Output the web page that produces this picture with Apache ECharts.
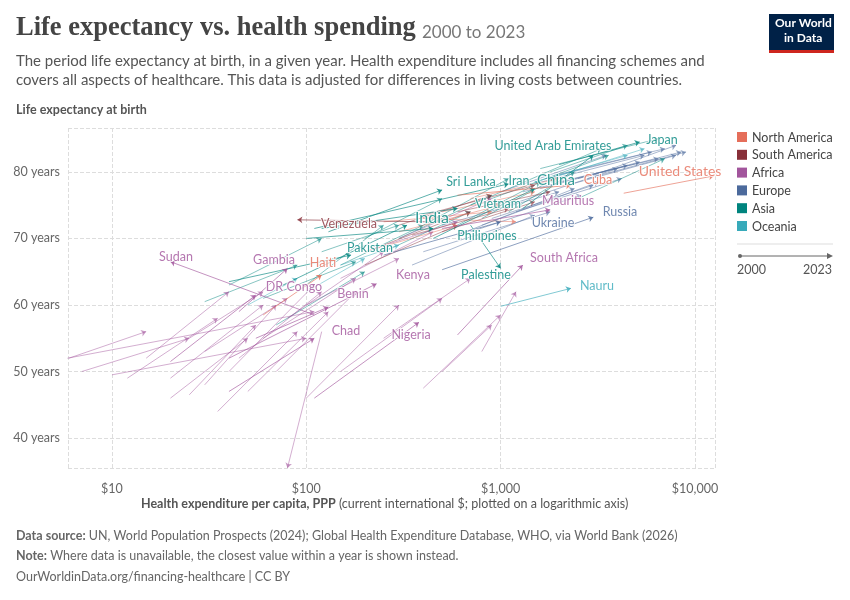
<!DOCTYPE html>
<html><head><meta charset="utf-8">
<script src="https://cdn.jsdelivr.net/npm/echarts@6/dist/echarts.min.js"></script>
<style>body{margin:0}#c{width:850px;height:600px}</style></head>
<body><div id="c"></div>
<script>
// regions and colours
var regionNames = ["North America", "South America", "Africa", "Europe", "Asia", "Oceania"];
var regionColors = ["#e56e5a", "#883039", "#a2559c", "#4c6a9c", "#00847e", "#38aaba"];

// labelled countries: region index, 2000 spend, 2000 life exp, 2023 spend, 2023 life exp
var labNames = ["Japan", "United Arab Emirates", "China", "Iran", "Cuba", "United States", "Sri Lanka",
  "India", "Vietnam", "Mauritius", "Russia", "Ukraine", "Venezuela", "Philippines", "Pakistan", "Haiti",
  "Gambia", "Sudan", "Kenya", "Palestine", "South Africa", "Nauru", "DR Congo", "Benin", "Chad", "Nigeria"];
var labRegion = [4, 4, 4, 4, 0, 0, 4, 4, 4, 2, 3, 3, 1, 4, 4, 0, 2, 2, 2, 4, 2, 5, 2, 2, 2, 2];
var labX0 = [2000, 1300, 110, 450, 600, 4300, 130, 70, 120, 500, 500, 250, 420, 100, 40, 60, 45, 110, 40, 700, 600, 1000, 20, 55, 40, 110];
var labY0 = [81.1, 74.5, 71.5, 70, 76.5, 76.8, 71, 62.5, 71.5, 71.5, 65.3, 67.5, 72.5, 70, 63.5, 58.5, 59, 58.5, 52, 72, 55.5, 59.8, 51.5, 55, 47, 46];
var labX1 = [5200, 3000, 1100, 1500, 2300, 12500, 500, 330, 600, 1800, 3000, 1000, 90, 450, 170, 120, 80, 20, 230, 1000, 1300, 2300, 55, 130, 110, 380];
var labY1 = [84.5, 82.5, 78.2, 77.5, 78, 79.4, 77.3, 72, 74.5, 74.3, 73.2, 72.5, 72.8, 71.5, 67.5, 64.5, 65.5, 66.5, 63.2, 65.5, 66, 62.5, 61.5, 59.7, 55, 57.4];
// where each label sits on the page, and its size
var labAt = [[662,140],[553,146],[556,180],[519,181],[598,180],[680,171],[471,182],[432,218],[498,204],[568,201],
  [620,212],[553,223],[349,224],[487,236],[370,248],[323,263],[274,260],[176,257],[413,275],[486,275],
  [564,258],[597,286],[294,287],[353,294],[346,331],[411,335]];
var bigLabels = {"India": 16, "China": 15, "United States": 14};

// other countries: [region, x2000, y2000, x2023, y2023]
var others = [
  [3,1400,78,5500,82.5],[3,1700,79,6000,83],[3,2000,78.5,6500,82],[3,1900,79.5,7000,83.5],[3,2200,78,8000,82.5],
  [3,2500,79,8500,83],[3,1600,77.5,5200,81.5],[3,1300,77,4500,81],[3,900,73,3000,78],[3,700,71,2600,76.5],
  [3,800,72,3200,78.5],[3,600,70.5,2400,77.5],[3,500,72,2000,77],[3,1100,75,4000,80.5],[3,1000,77,3500,82.5],
  [3,400,68,1800,74],[3,350,66,1500,73.5],[3,3000,79.5,8000,84],[3,2800,79,9000,83],[3,1200,74,4200,79],
  [4,1800,80,4500,84],[4,1600,80.5,6500,85],[4,700,75,3300,83.5],[4,900,76,3600,82.5],[4,1100,74,2400,80],
  [4,800,73,1900,79],[4,600,72,1600,78.5],[4,300,70,900,76.5],[4,250,68,700,74],[4,120,68,300,72],
  [4,60,61,180,66.5],[4,30,60.5,90,66],[4,150,66,400,72],[4,200,70,500,76],[4,400,72,1100,79],
  [4,40,63,120,70],[4,90,62,250,72],[4,70,57,200,65],[4,2500,76,7000,82],
  [2,15,52,40,62],[2,20,49,60,60],[2,25,46.5,55,57],[2,30,48,70,60],[2,35,44,90,56],[2,40,50,110,63],
  [2,45,52,120,62],[2,60,55,180,64],[2,80,58,250,68],[2,100,60,300,67],[2,150,64,450,71],[2,200,68,600,72.5],
  [2,300,70,900,76],[2,20,46,50,55],[2,12,49,35,58],[2,50,47,130,59],[2,70,50,180,62],[2,30,53,80,61],
  [2,100,46,300,60],[2,150,50,500,61],[2,250,55,700,64],[2,400,47.5,1000,58.5],[2,7,50,25,55],[2,6,52,15,56],
  [2,25,55,60,62],[2,120,56,80,35.5],[2,800,53,1200,62],[2,500,50,900,57],[2,5.9,52,110,59],[2,10,49.5,100,55],
  [1,300,72,900,76.5],[1,400,73.5,1500,78],[1,600,74,1800,77],[1,500,71,1500,75.5],[1,250,69,700,74],
  [1,200,66,600,72],[1,350,70.5,1100,74.5],
  [0,300,71,1000,75],[0,500,74,1500,77],[0,200,68,600,72],[0,700,76,2000,79],[0,250,72.5,900,74],[0,400,73,1200,72.5],
  [5,1800,79,5500,83.5],[5,1500,78.5,4500,82.5],[5,50,60,90,64],[5,100,62,200,67],[5,150,66,300,69]
];

var xTicks = {10: "$10", 100: "$100", 1000: "$1,000", 10000: "$10,000"};

var lineData = others.map(function (o) {
  return {coords: [[o[1], o[2]], [o[3], o[4]]], lineStyle: {color: regionColors[o[0]]}};
});
labNames.forEach(function (n, i) {
  lineData.push({coords: [[labX0[i], labY0[i]], [labX1[i], labY1[i]]],
    lineStyle: {color: regionColors[labRegion[i]], opacity: 0.8}});
});

var chart = echarts.init(document.getElementById("c"));
var font = "Lato, 'Noto Sans', sans-serif";

var legendGraphics = [];
regionNames.forEach(function (r, i) {
  legendGraphics.push({type: "rect", left: 737, top: 132 + i * 17.8, shape: {width: 10, height: 10}, style: {fill: regionColors[i]}});
  legendGraphics.push({type: "text", left: 752, top: 131 + i * 17.8, style: {text: r, fill: "#444", font: "12.5px " + font}});
});

var option = {
  animation: false,
  grid: {left: 68, right: 135, top: 128, bottom: 132},
  xAxis: {
    type: "log", logBase: 10, min: 5.94, max: 12680,
    axisLine: {show: false}, axisTick: {show: false},
    axisLabel: {color: "#666", fontSize: 12.5, fontFamily: font, margin: 14,
      formatter: function (v) { return xTicks[Math.round(v)] || ""; }},
    splitLine: {show: true, lineStyle: {type: "dashed", color: "#ddd"}}
  },
  yAxis: {
    type: "value", min: 35.5, max: 86.6, splitNumber: 5,
    axisLine: {show: false}, axisTick: {show: false},
    axisLabel: {color: "#666", fontSize: 12.5, fontFamily: font, formatter: "{value} years",
      showMinLabel: false, showMaxLabel: false},
    splitLine: {lineStyle: {type: "dashed", color: "#ddd"}}
  },
  series: [
    {type: "lines", coordinateSystem: "cartesian2d", polyline: false, silent: true,
      symbol: ["none", "arrow"], symbolSize: 5,
      lineStyle: {width: 0.8, opacity: 0.6}, data: lineData, z: 2},
    {type: "scatter", symbolSize: 0, silent: true, z: 5,
      data: labNames.map(function (n, i) {
        return {name: n, value: [labX1[i], labY1[i]],
          label: {color: regionColors[labRegion[i]], fontSize: bigLabels[n] || 12.5}};
      }),
      label: {show: true, formatter: "{b}", position: "inside", fontFamily: font,
        textBorderColor: "#fff", textBorderWidth: 2}}
  ],
  graphic: [
    {type: "text", left: 16, top: 15, style: {text: "Life expectancy vs. health spending", fill: "#444", font: "bold 26.5px 'Liberation Serif', serif"}},
    {type: "text", left: 422, top: 24, style: {text: "2000 to 2023", fill: "#777", font: "17px " + font}},
    {type: "text", left: 16, top: 52, style: {text: "The period life expectancy at birth, in a given year. Health expenditure includes all financing schemes and\ncovers all aspects of healthcare. This data is adjusted for differences in living costs between countries.", fill: "#555", font: "15px " + font, lineHeight: 19}},
    {type: "text", left: 16, top: 103, style: {text: "Life expectancy at birth", fill: "#555", font: "bold 12.5px " + font}},
    {type: "text", left: 141, top: 497, style: {text: "{b|Health expenditure per capita, PPP} (current international $; plotted on a logarithmic axis)", fill: "#555", font: "12.5px " + font, rich: {b: {fontWeight: "bold", fontSize: 12.5, fontFamily: font, fill: "#555"}}}},
    {type: "text", left: 16, top: 529, style: {text: "{b|Data source:} UN, World Population Prospects (2024); Global Health Expenditure Database, WHO, via World Bank (2026)", fill: "#666", font: "12.5px " + font, rich: {b: {fontWeight: "bold", fontFamily: font, fontSize: 12.5}}}},
    {type: "text", left: 16, top: 549, style: {text: "{b|Note:} Where data is unavailable, the closest value within a year is shown instead.", fill: "#666", font: "12.5px " + font, rich: {b: {fontWeight: "bold", fontFamily: font, fontSize: 12.5}}}},
    {type: "text", left: 16, top: 570, style: {text: "OurWorldinData.org/financing-healthcare | CC BY", fill: "#666", font: "12.5px " + font}},
    {type: "rect", left: 769, top: 14, shape: {width: 65, height: 36}, style: {fill: "#002147"}},
    {type: "rect", left: 769, top: 50, shape: {width: 65, height: 3}, style: {fill: "#ce261e"}},
    {type: "text", left: 775, top: 17, style: {text: "Our World", fill: "#fff", font: "bold 12px " + font}},
    {type: "text", left: 784, top: 32, style: {text: "in Data", fill: "#fff", font: "bold 12px " + font}},
    {type: "line", shape: {x1: 737, y1: 244, x2: 833, y2: 244}, style: {stroke: "#ddd"}},
    {type: "circle", shape: {cx: 740, cy: 256, r: 2}, style: {fill: "#666"}},
    {type: "line", shape: {x1: 740, y1: 256, x2: 831, y2: 256}, style: {stroke: "#666"}},
    {type: "polygon", shape: {points: [[833, 256], [827, 253], [827, 259]]}, style: {fill: "#666"}},
    {type: "text", left: 737, top: 263, style: {text: "2000", fill: "#555", font: "12.5px " + font}},
    {type: "text", left: 803, top: 263, style: {text: "2023", fill: "#555", font: "12.5px " + font}}
  ].concat(legendGraphics)
};
chart.setOption(option);

// move each label to where it sits in the reference
var scatterData = option.series[1].data.map(function (d, i) {
  var p = chart.convertToPixel({gridIndex: 0}, d.value);
  d.label.offset = [labAt[i][0] - p[0], labAt[i][1] - p[1]];
  return d;
});
chart.setOption({series: [{}, {data: scatterData}]});
</script></body></html>
